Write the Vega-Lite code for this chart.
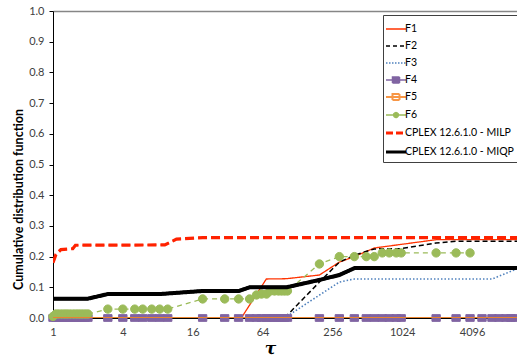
{
  "$schema": "https://vega.github.io/schema/vega-lite/v6.json",
  "width": 464,
  "height": 307,
  "autosize": {"type": "none"},
  "padding": {"left": 53, "top": 11, "right": 0, "bottom": 38},
  "background": "white",
  "config": {
    "view": {"stroke": null},
    "font": "Lato",
    "legend": {
      "orient": "none",
      "legendX": 330,
      "legendY": 4,
      "padding": 3,
      "strokeColor": "#404040",
      "fillColor": "white",
      "symbolSize": 400,
      "symbolOffset": -2,
      "labelFontSize": 10.5,
      "labelFont": "Lato",
      "labelColor": "#000000",
      "rowPadding": -1,
      "labelOffset": -3
    }
  },
  "data": {
    "values": [
      {"s": "F1", "t": 1, "v": 0}, {"s": "F1", "t": 42, "v": 0}, {"s": "F1", "t": 69, "v": 0.127}, {"s": "F1", "t": 103, "v": 0.128}, {"s": "F1", "t": 198, "v": 0.14}, {"s": "F1", "t": 294, "v": 0.182}, {"s": "F1", "t": 396, "v": 0.2}, {"s": "F1", "t": 588, "v": 0.228}, {"s": "F1", "t": 2000, "v": 0.255}, {"s": "F1", "t": 10000, "v": 0.255},
      {"s": "F2", "t": 1, "v": 0}, {"s": "F2", "t": 99, "v": 0}, {"s": "F2", "t": 198, "v": 0.117}, {"s": "F2", "t": 294, "v": 0.182}, {"s": "F2", "t": 350, "v": 0.195}, {"s": "F2", "t": 400, "v": 0.205}, {"s": "F2", "t": 588, "v": 0.225}, {"s": "F2", "t": 1004, "v": 0.226}, {"s": "F2", "t": 2000, "v": 0.244}, {"s": "F2", "t": 2984, "v": 0.25}, {"s": "F2", "t": 10000, "v": 0.25},
      {"s": "F3", "t": 1, "v": 0}, {"s": "F3", "t": 99, "v": 0}, {"s": "F3", "t": 294, "v": 0.117}, {"s": "F3", "t": 396, "v": 0.127}, {"s": "F3", "t": 6085, "v": 0.127}, {"s": "F3", "t": 10000, "v": 0.16},
      {"s": "F4", "t": 1, "v": 0}, {"s": "F4", "t": 1.06, "v": 0}, {"s": "F4", "t": 1.12, "v": 0}, {"s": "F4", "t": 1.19, "v": 0}, {"s": "F4", "t": 1.26, "v": 0}, {"s": "F4", "t": 1.33, "v": 0}, {"s": "F4", "t": 1.41, "v": 0}, {"s": "F4", "t": 1.5, "v": 0}, {"s": "F4", "t": 1.59, "v": 0}, {"s": "F4", "t": 1.68, "v": 0}, {"s": "F4", "t": 1.78, "v": 0}, {"s": "F4", "t": 1.89, "v": 0}, {"s": "F4", "t": 2.0, "v": 0}, {"s": "F4", "t": 2.97, "v": 0}, {"s": "F4", "t": 4.0, "v": 0}, {"s": "F4", "t": 5.07, "v": 0}, {"s": "F4", "t": 5.94, "v": 0}, {"s": "F4", "t": 7.1, "v": 0}, {"s": "F4", "t": 8.32, "v": 0}, {"s": "F4", "t": 9.75, "v": 0}, {"s": "F4", "t": 19.5, "v": 0}, {"s": "F4", "t": 30.2, "v": 0}, {"s": "F4", "t": 39.8, "v": 0}, {"s": "F4", "t": 49.5, "v": 0}, {"s": "F4", "t": 56.8, "v": 0}, {"s": "F4", "t": 62.7, "v": 0}, {"s": "F4", "t": 69.3, "v": 0}, {"s": "F4", "t": 75, "v": 0}, {"s": "F4", "t": 81.2, "v": 0}, {"s": "F4", "t": 87.8, "v": 0}, {"s": "F4", "t": 93.3, "v": 0}, {"s": "F4", "t": 99, "v": 0}, {"s": "F4", "t": 105, "v": 0}, {"s": "F4", "t": 198, "v": 0}, {"s": "F4", "t": 294, "v": 0}, {"s": "F4", "t": 396, "v": 0}, {"s": "F4", "t": 502, "v": 0}, {"s": "F4", "t": 588, "v": 0}, {"s": "F4", "t": 689, "v": 0}, {"s": "F4", "t": 792, "v": 0}, {"s": "F4", "t": 910, "v": 0}, {"s": "F4", "t": 1004, "v": 0}, {"s": "F4", "t": 2008, "v": 0}, {"s": "F4", "t": 2984, "v": 0}, {"s": "F4", "t": 3937, "v": 0}, {"s": "F4", "t": 4993, "v": 0}, {"s": "F4", "t": 6085, "v": 0}, {"s": "F4", "t": 6990, "v": 0}, {"s": "F4", "t": 8030, "v": 0}, {"s": "F4", "t": 8870, "v": 0}, {"s": "F4", "t": 9600, "v": 0},
      {"s": "F5", "t": 1, "v": 0}, {"s": "F5", "t": 10000, "v": 0},
      {"s": "F6", "t": 1, "v": 0.005}, {"s": "F6", "t": 1.06, "v": 0.013}, {"s": "F6", "t": 1.12, "v": 0.013}, {"s": "F6", "t": 1.19, "v": 0.013}, {"s": "F6", "t": 1.26, "v": 0.013}, {"s": "F6", "t": 1.33, "v": 0.013}, {"s": "F6", "t": 1.41, "v": 0.013}, {"s": "F6", "t": 1.5, "v": 0.013}, {"s": "F6", "t": 1.59, "v": 0.013}, {"s": "F6", "t": 1.68, "v": 0.013}, {"s": "F6", "t": 1.78, "v": 0.013}, {"s": "F6", "t": 1.89, "v": 0.013}, {"s": "F6", "t": 2.0, "v": 0.013}, {"s": "F6", "t": 2.97, "v": 0.029}, {"s": "F6", "t": 4.0, "v": 0.029}, {"s": "F6", "t": 5.07, "v": 0.029}, {"s": "F6", "t": 5.94, "v": 0.029}, {"s": "F6", "t": 7.1, "v": 0.029}, {"s": "F6", "t": 8.32, "v": 0.029}, {"s": "F6", "t": 9.75, "v": 0.029}, {"s": "F6", "t": 19.5, "v": 0.062}, {"s": "F6", "t": 30.2, "v": 0.062}, {"s": "F6", "t": 39.8, "v": 0.062}, {"s": "F6", "t": 49.5, "v": 0.062}, {"s": "F6", "t": 56.8, "v": 0.075}, {"s": "F6", "t": 62.7, "v": 0.078}, {"s": "F6", "t": 69.3, "v": 0.078}, {"s": "F6", "t": 75, "v": 0.088}, {"s": "F6", "t": 81.2, "v": 0.088}, {"s": "F6", "t": 87.8, "v": 0.088}, {"s": "F6", "t": 93.3, "v": 0.088}, {"s": "F6", "t": 99, "v": 0.088}, {"s": "F6", "t": 105, "v": 0.088}, {"s": "F6", "t": 198, "v": 0.176}, {"s": "F6", "t": 294, "v": 0.2}, {"s": "F6", "t": 396, "v": 0.2}, {"s": "F6", "t": 502, "v": 0.2}, {"s": "F6", "t": 588, "v": 0.2}, {"s": "F6", "t": 689, "v": 0.212}, {"s": "F6", "t": 792, "v": 0.212}, {"s": "F6", "t": 910, "v": 0.212}, {"s": "F6", "t": 1004, "v": 0.212}, {"s": "F6", "t": 2008, "v": 0.212}, {"s": "F6", "t": 2984, "v": 0.212}, {"s": "F6", "t": 3937, "v": 0.212},
      {"s": "CPLEX 12.6.1.0 - MILP", "t": 1, "v": 0.18}, {"s": "CPLEX 12.6.1.0 - MILP", "t": 1.06, "v": 0.207}, {"s": "CPLEX 12.6.1.0 - MILP", "t": 1.17, "v": 0.223}, {"s": "CPLEX 12.6.1.0 - MILP", "t": 1.48, "v": 0.226}, {"s": "CPLEX 12.6.1.0 - MILP", "t": 1.56, "v": 0.237}, {"s": "CPLEX 12.6.1.0 - MILP", "t": 9.2, "v": 0.238}, {"s": "CPLEX 12.6.1.0 - MILP", "t": 11.6, "v": 0.257}, {"s": "CPLEX 12.6.1.0 - MILP", "t": 19.5, "v": 0.262}, {"s": "CPLEX 12.6.1.0 - MILP", "t": 10000, "v": 0.262},
      {"s": "CPLEX 12.6.1.0 - MIQP", "t": 1, "v": 0.063}, {"s": "CPLEX 12.6.1.0 - MIQP", "t": 2, "v": 0.063}, {"s": "CPLEX 12.6.1.0 - MIQP", "t": 2.97, "v": 0.078}, {"s": "CPLEX 12.6.1.0 - MIQP", "t": 8.3, "v": 0.078}, {"s": "CPLEX 12.6.1.0 - MIQP", "t": 19.5, "v": 0.088}, {"s": "CPLEX 12.6.1.0 - MIQP", "t": 40, "v": 0.088}, {"s": "CPLEX 12.6.1.0 - MIQP", "t": 49.5, "v": 0.1}, {"s": "CPLEX 12.6.1.0 - MIQP", "t": 103, "v": 0.1}, {"s": "CPLEX 12.6.1.0 - MIQP", "t": 198, "v": 0.124}, {"s": "CPLEX 12.6.1.0 - MIQP", "t": 294, "v": 0.14}, {"s": "CPLEX 12.6.1.0 - MIQP", "t": 400, "v": 0.163}, {"s": "CPLEX 12.6.1.0 - MIQP", "t": 10000, "v": 0.163}
    ]
  },
  "encoding": {
    "x": {
      "field": "t", "type": "quantitative",
      "scale": {"type": "log", "base": 2, "domain": [1, 10000]},
      "axis": {
        "values": [1, 4, 16, 64, 256, 1024, 4096], "format": "d",
        "title": "τ", "titleFont": "DejaVu Serif", "titleFontStyle": "italic", "titleFontWeight": "bold", "titleFontSize": 17, "titleColor": "#000000",
        "titleX": 217, "titleY": 30, "titleBaseline": "middle", "titleAlign": "center",
        "labelFontSize": 11, "labelColor": "#404040", "labelFont": "Lato", "ticks": false, "labelPadding": 8,
        "grid": false, "domainColor": "#000000", "labelFlush": false, "labelOverlap": false
      }
    },
    "y": {
      "field": "v", "type": "quantitative",
      "scale": {"domain": [0, 1]},
      "axis": {
        "values": [0, 0.1, 0.2, 0.3, 0.4, 0.5, 0.6, 0.7, 0.8, 0.9, 1], "format": ".1f",
        "title": "Cumulative distribution function", "titleFont": "Lato", "titleFontSize": 12.5, "titleFontWeight": "bold", "titleColor": "#000000",
        "titleX": -35, "titleY": 188, "titleAngle": -90, "titleAlign": "center", "titleBaseline": "middle",
        "labelFontSize": 11, "labelColor": "#404040", "labelFont": "Lato", "tickSize": 4, "tickColor": "#000000", "labelPadding": 5,
        "labelOverlap": false, "domainColor": "#000000", "grid": true, "gridColor": "#868686", "gridWidth": 1.5,
        "gridOpacity": {"condition": {"test": "datum.value === 1", "value": 1}, "value": 0}
      }
    }
  },
  "layer": [
    {
      "mark": {"type": "line", "clip": true},
      "encoding": {
        "stroke": {
          "field": "s", "type": "nominal",
          "scale": {
            "domain": ["F1", "F2", "F3", "F4", "F5", "F6", "CPLEX 12.6.1.0 - MILP", "CPLEX 12.6.1.0 - MIQP"],
            "range": ["#FF3300", "#000000", "#4F81BD", "#8064A2", "#E8842F", "#9BBB59", "#FF2200", "#000000"]
          },
          "legend": null
        },
        "strokeDash": {
          "field": "s", "type": "nominal",
          "scale": {
            "domain": ["F1", "F2", "F3", "F4", "F5", "F6", "CPLEX 12.6.1.0 - MILP", "CPLEX 12.6.1.0 - MIQP"],
            "range": [[1, 0], [5, 3], [1.5, 2], [1, 0], [1, 0], [5, 4], [9, 4], [1, 0]]
          },
          "legend": null
        },
        "strokeWidth": {
          "field": "s", "type": "nominal",
          "scale": {
            "type": "ordinal",
            "domain": ["F1", "F2", "F3", "F4", "F5", "F6", "CPLEX 12.6.1.0 - MILP", "CPLEX 12.6.1.0 - MIQP"],
            "range": [1.3, 1.5, 1.6, 1.5, 2, 1.3, 3.2, 3.2]
          },
          "legend": {
            "title": null,
            "encode": {
              "symbols": {
                "update": {
                  "shape": {"signal": "(datum.value === 'F4' || datum.value === 'F5') ? 'M-1,0H1M-0.35,-0.3H0.35V0.3H-0.35Z' : datum.value === 'F6' ? 'M-1,0H1M0.25,0A0.25,0.25,0,1,1,-0.25,0A0.25,0.25,0,1,1,0.25,0Z' : 'stroke'"},
                  "fill": {"signal": "datum.value === 'F4' ? '#8064A2' : datum.value === 'F5' ? '#ffffff' : datum.value === 'F6' ? '#9BBB59' : 'transparent'"},
                  "stroke": {"signal": "datum.value === 'F1' ? '#FF3300' : datum.value === 'F2' ? '#000000' : datum.value === 'F3' ? '#4F81BD' : datum.value === 'F4' ? '#8064A2' : datum.value === 'F5' ? '#F79646' : datum.value === 'F6' ? '#9BBB59' : datum.value === 'CPLEX 12.6.1.0 - MILP' ? '#FF2200' : '#000000'"},
                  "strokeDash": {"signal": "datum.value === 'F2' ? [4, 3] : datum.value === 'F3' ? [1.5, 1.5] : datum.value === 'CPLEX 12.6.1.0 - MILP' ? [7, 3] : [1, 0]"},
                  "opacity": {"value": 1}
                }
              }
            }
          }
        }
      }
    },
    {
      "transform": [{"filter": "datum.s === 'F4' || datum.s === 'F6'"}],
      "mark": {"type": "point", "filled": true, "size": 70, "strokeWidth": 1, "opacity": 1},
      "encoding": {
        "stroke": {"field": "s", "type": "nominal", "legend": null},
        "fill": {"field": "s", "type": "nominal", "scale": {"domain": ["F4", "F6"], "range": ["#8064A2", "#9BBB59"]}, "legend": null},
        "shape": {"field": "s", "type": "nominal", "scale": {"domain": ["F4", "F6"], "range": ["M-1,-0.8H1V0.8H-1Z", "M1,0A1,1,0,1,1,-1,0A1,1,0,1,1,1,0Z"]}, "legend": null}
      }
    },
    {
      "transform": [{"filter": "datum.s === 'F5'"}],
      "mark": {"type": "line", "color": "#E8842F", "strokeWidth": 2, "clip": true},
      "encoding": {}
    },
    {
      "transform": [{"filter": "datum.s === 'CPLEX 12.6.1.0 - MILP' || datum.s === 'CPLEX 12.6.1.0 - MIQP'"}],
      "mark": {"type": "line", "clip": true},
      "encoding": {
        "stroke": {"field": "s", "type": "nominal", "legend": null},
        "strokeDash": {"field": "s", "type": "nominal", "legend": null},
        "strokeWidth": {"field": "s", "type": "nominal", "legend": null}
      }
    }
  ]
}
